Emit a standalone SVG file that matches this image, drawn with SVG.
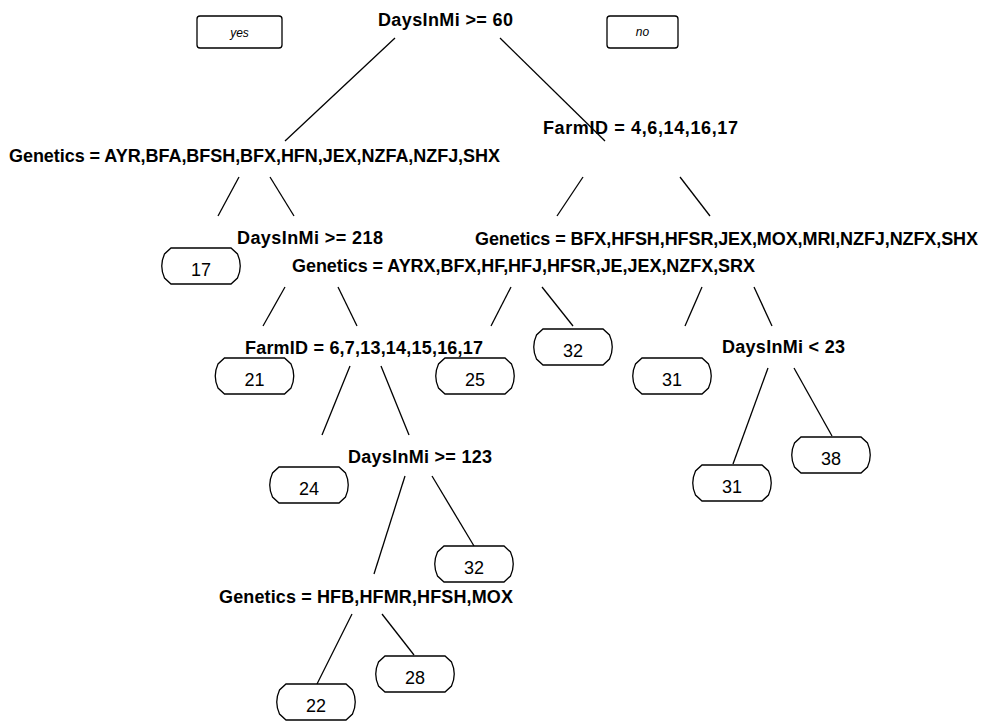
<svg xmlns="http://www.w3.org/2000/svg" width="984" height="722" viewBox="0 0 984 722">
  <style>
    .split { font-family: "Liberation Sans", Arial, sans-serif; font-size: 18px; font-weight: bold; fill: #000; }
    .leaf-label { font-family: "Liberation Sans", Arial, sans-serif; font-size: 18px; fill: #000; text-anchor: middle; }
    .tag-label { font-family: "Liberation Sans", Arial, sans-serif; font-size: 12px; font-style: italic; fill: #000; text-anchor: middle; }
    .leaf { fill: #fff; stroke: #000; stroke-width: 1.3; }
    .tag { fill: #fff; stroke: #000; stroke-width: 1.3; }
    .edge { stroke: #000; stroke-width: 1.3; fill: none; }
  </style>
  <defs>
    <!-- leaf outline: flat top/bottom, bevelled corners, slightly bulging sides -->
    <path id="leafShape" d="M-30,-18 H30 L36.5,-12 Q42,0 36.5,12 L30,18 H-30 L-36.5,12 Q-42,0 -36.5,-12 Z"/>
  </defs>
  <rect width="984" height="722" fill="#fff"/>

  <!-- branch labels -->
  <g id="tag-yes">
    <rect class="tag" x="197" y="16" width="85" height="32" rx="3"/>
    <text class="tag-label" x="239.5" y="37">yes</text>
  </g>
  <g id="tag-no">
    <rect class="tag" x="607" y="16" width="71" height="32" rx="3"/>
    <text class="tag-label" x="642.5" y="36">no</text>
  </g>

  <!-- connectors -->
  <g id="connectors">
    <line class="edge" x1="395" y1="38" x2="285" y2="141"/>
    <line class="edge" x1="500" y1="38" x2="605" y2="141"/>
    <line class="edge" x1="239" y1="177" x2="218" y2="216"/>
    <line class="edge" x1="270" y1="177" x2="294" y2="216"/>
    <line class="edge" x1="583" y1="177" x2="557" y2="216"/>
    <line class="edge" x1="680" y1="177" x2="710" y2="216"/>
    <line class="edge" x1="285" y1="287" x2="263" y2="326"/>
    <line class="edge" x1="338" y1="287" x2="357" y2="326"/>
    <line class="edge" x1="511" y1="287" x2="491" y2="326"/>
    <line class="edge" x1="542" y1="287" x2="573" y2="326"/>
    <line class="edge" x1="702" y1="287" x2="685" y2="326"/>
    <line class="edge" x1="754" y1="287" x2="772" y2="326"/>
    <line class="edge" x1="350" y1="366" x2="322" y2="435"/>
    <line class="edge" x1="381" y1="366" x2="409" y2="435"/>
    <line class="edge" x1="768" y1="368" x2="733" y2="464"/>
    <line class="edge" x1="794" y1="368" x2="832" y2="436"/>
    <line class="edge" x1="405" y1="476" x2="374" y2="574"/>
    <line class="edge" x1="432" y1="476" x2="474" y2="546"/>
    <line class="edge" x1="352" y1="614" x2="317" y2="684"/>
    <line class="edge" x1="382" y1="614" x2="414" y2="655"/>
  </g>

  <!-- split nodes -->
  <g id="n-root"><text class="split" x="378" y="26" textLength="135">DaysInMi &gt;= 60</text></g>
  <g id="n-gen1"><text class="split" x="9" y="162" textLength="491">Genetics = AYR,BFA,BFSH,BFX,HFN,JEX,NZFA,NZFJ,SHX</text></g>
  <g id="n-farm1"><text class="split" x="543" y="134" textLength="195">FarmID = 4,6,14,16,17</text></g>
  <g id="n-days218"><text class="split" x="237" y="244" textLength="146">DaysInMi &gt;= 218</text></g>
  <g id="n-gen2"><text class="split" x="292" y="272" textLength="463">Genetics = AYRX,BFX,HF,HFJ,HFSR,JE,JEX,NZFX,SRX</text></g>
  <g id="n-gen3"><text class="split" x="475" y="245" textLength="503">Genetics = BFX,HFSH,HFSR,JEX,MOX,MRI,NZFJ,NZFX,SHX</text></g>
  <g id="n-farm2"><text class="split" x="245" y="354" textLength="238">FarmID = 6,7,13,14,15,16,17</text></g>
  <g id="n-days23"><text class="split" x="722" y="353" textLength="123">DaysInMi &lt; 23</text></g>
  <g id="n-days123"><text class="split" x="348" y="463" textLength="144">DaysInMi &gt;= 123</text></g>
  <g id="n-gen4"><text class="split" x="219" y="603" textLength="294">Genetics = HFB,HFMR,HFSH,MOX</text></g>

  <!-- leaf nodes -->
  <g id="leaf-17"><use href="#leafShape" class="leaf" transform="translate(201,266)"/><text class="leaf-label" x="201" y="276">17</text></g>
  <g id="leaf-21"><use href="#leafShape" class="leaf" transform="translate(254.5,376)"/><text class="leaf-label" x="254.5" y="386">21</text></g>
  <g id="leaf-25"><use href="#leafShape" class="leaf" transform="translate(475,376)"/><text class="leaf-label" x="475" y="386">25</text></g>
  <g id="leaf-32a"><use href="#leafShape" class="leaf" transform="translate(573,347)"/><text class="leaf-label" x="573" y="357">32</text></g>
  <g id="leaf-31a"><use href="#leafShape" class="leaf" transform="translate(672,376)"/><text class="leaf-label" x="672" y="386">31</text></g>
  <g id="leaf-24"><use href="#leafShape" class="leaf" transform="translate(309,485)"/><text class="leaf-label" x="309" y="495">24</text></g>
  <g id="leaf-32b"><use href="#leafShape" class="leaf" transform="translate(474,564)"/><text class="leaf-label" x="474" y="574">32</text></g>
  <g id="leaf-28"><use href="#leafShape" class="leaf" transform="translate(415,674)"/><text class="leaf-label" x="415" y="684">28</text></g>
  <g id="leaf-22"><use href="#leafShape" class="leaf" transform="translate(316,702)"/><text class="leaf-label" x="316" y="712">22</text></g>
  <g id="leaf-38"><use href="#leafShape" class="leaf" transform="translate(831,455)"/><text class="leaf-label" x="831" y="465">38</text></g>
  <g id="leaf-31b"><use href="#leafShape" class="leaf" transform="translate(732,483)"/><text class="leaf-label" x="732" y="493">31</text></g>
</svg>
